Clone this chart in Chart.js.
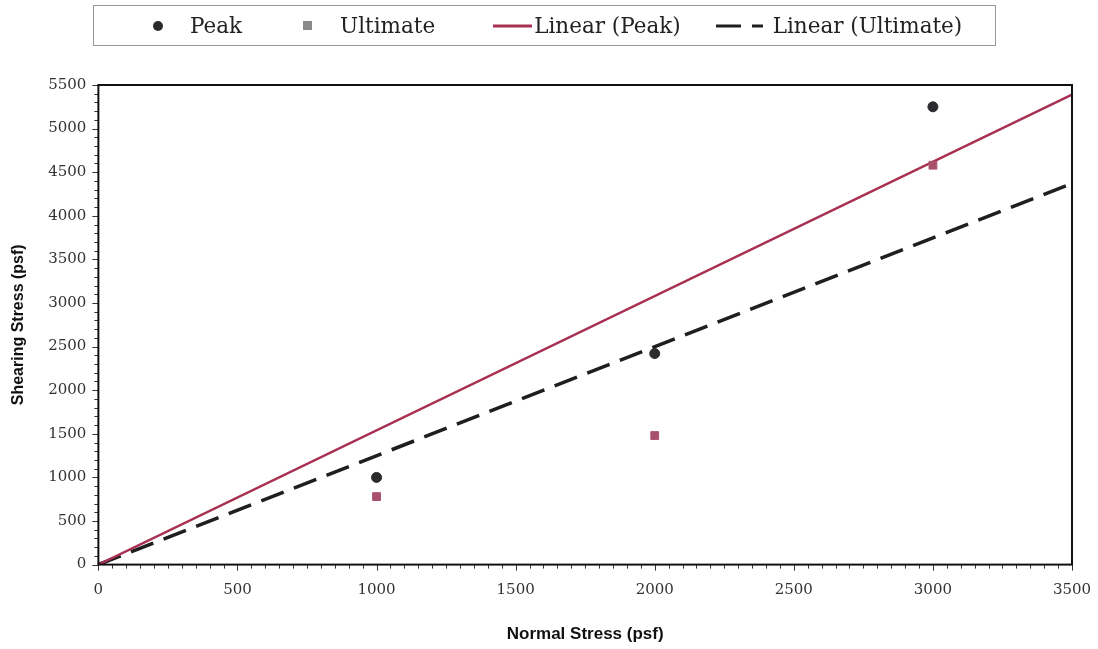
<!DOCTYPE html>
<html>
<head>
<meta charset="utf-8">
<script src="https://cdn.jsdelivr.net/npm/chart.js@4.4.1/dist/chart.umd.min.js"></script>
<style>
    body { margin: 0; background: #fff; }
    #wrap { position: relative; width: 1098px; height: 649px; }
    #legend {
        position: absolute; left: 93px; top: 5px; width: 901px; height: 39px;
        border: 1px solid #999; display: flex; align-items: center; justify-content: flex-start;
        font-family: "DejaVu Serif", serif; font-size: 21.5px; color: #222;
    }
    #legend .item { display: flex; align-items: center; }
    #legend svg { display: block; }
</style>
</head>
<body>
<div id="wrap">
    <canvas id="chart" width="1098" height="649"></canvas>
    <div id="legend"></div>
</div>
<script>
// measured points (psf)
const normalStress = [1000, 2000, 3000];
const peakShear = [1000, 2420, 5250];
const ultimateShear = [780, 1480, 4580];

// trendline ends (intercept 0)
const fitX = [0, 3500];
const peakFit = [0, 5390];
const ultimateFit = [0, 4372];

const xTicks = [0, 500, 1000, 1500, 2000, 2500, 3000, 3500];
const yTicks = [0, 500, 1000, 1500, 2000, 2500, 3000, 3500, 4000, 4500, 5000, 5500];

const toPts = (xs, ys) => xs.map((x, i) => ({ x: x, y: ys[i] }));

// frame + minor ticks like the excel chart
const framePlugin = {
    id: 'frame',
    afterDraw(chart) {
        const { ctx, chartArea: a, scales } = chart;
        ctx.save();
        ctx.strokeStyle = '#333';
        ctx.lineWidth = 1;
        ctx.beginPath();
        for (let v = 0; v <= 3500; v += 50) {
            const px = Math.round(scales.x.getPixelForValue(v)) + 0.5;
            const len = v % 500 === 0 ? 6 : 4;
            ctx.moveTo(px, a.bottom);
            ctx.lineTo(px, a.bottom + len);
        }
        for (let v = 0; v <= 5500; v += 100) {
            const py = Math.round(scales.y.getPixelForValue(v)) + 0.5;
            const len = v % 500 === 0 ? 6 : 4;
            ctx.moveTo(a.left, py);
            ctx.lineTo(a.left - len, py);
        }
        ctx.stroke();
        ctx.lineWidth = 2;
        ctx.strokeStyle = '#111';
        ctx.strokeRect(a.left, a.top, a.right - a.left, a.bottom - a.top);
        ctx.restore();
    }
};

const chart = new Chart(document.getElementById('chart'), {
    type: 'scatter',
    data: {
        datasets: [
            {
                label: 'Peak',
                data: toPts(normalStress, peakShear),
                pointStyle: 'circle',
                pointRadius: 5,
                backgroundColor: '#2b2b2d',
                borderColor: '#2b2b2d',
                legendColor: '#2b2b2d'
            },
            {
                label: 'Ultimate',
                data: toPts(normalStress, ultimateShear),
                pointStyle: 'rect',
                pointRadius: 5.5,
                backgroundColor: '#a8506c',
                borderColor: '#a8506c',
                legendColor: '#8a8a8a'
            },
            {
                label: 'Linear (Peak)',
                type: 'line',
                data: toPts(fitX, peakFit),
                borderColor: '#a83052',
                borderWidth: 2.5,
                pointRadius: 0,
                fill: false
            },
            {
                label: 'Linear (Ultimate)',
                type: 'line',
                data: toPts(fitX, ultimateFit),
                borderColor: '#1f1f1f',
                borderWidth: 3.5,
                borderDash: [24, 11],
                pointRadius: 0,
                fill: false
            }
        ]
    },
    options: {
        responsive: false,
        animation: false,
        layout: { padding: { top: 85, right: 0, left: 5, bottom: 0 } },
        plugins: {
            legend: { display: false },
            tooltip: { enabled: false }
        },
        scales: {
            x: {
                type: 'linear',
                min: 0, max: 3500,
                afterBuildTicks: (s) => { s.ticks = xTicks.map(v => ({ value: v })); },
                afterFit: (s) => { s.paddingRight = 26; },
                grid: { display: false, drawTicks: false },
                border: { display: false },
                ticks: {
                    padding: 17,
                    color: '#333',
                    font: { family: 'DejaVu Serif', size: 15 },
                    callback: (v) => String(v)
                },
                title: {
                    display: true,
                    text: 'Normal Stress (psf)',
                    color: '#111',
                    padding: { top: 8 },
                    font: { family: 'Liberation Sans', size: 17, weight: 'bold' }
                }
            },
            y: {
                min: 0, max: 5500,
                afterBuildTicks: (s) => { s.ticks = yTicks.map(v => ({ value: v })); },
                grid: { display: false, drawTicks: false },
                border: { display: false },
                ticks: {
                    padding: 12,
                    color: '#333',
                    font: { family: 'DejaVu Serif', size: 15 },
                    callback: (v) => String(v)
                },
                title: {
                    display: true,
                    text: 'Shearing Stress (psf)',
                    color: '#111',
                    padding: { bottom: 8 },
                    font: { family: 'Liberation Sans', size: 16, weight: 'bold' }
                }
            }
        }
    },
    plugins: [framePlugin]
});

// html legend built from the datasets, item offsets as in the original
const legendLeft = [58, 60, 58, 35];
function buildLegend(chart) {
    let html = '';
    chart.data.datasets.forEach((ds, i) => {
        let icon;
        if (ds.type === 'line') {
            const dash = ds.borderDash ? `stroke-dasharray="25 11"` : '';
            const w = ds.borderDash ? 47 : 39;
            icon = `<svg width="${w}" height="10" style="margin-right:${ds.borderDash ? 10 : 2}px"><line x1="0" y1="5" x2="${w}" y2="5" stroke="${ds.borderColor}" stroke-width="3" ${dash}/></svg>`;
        } else if (ds.pointStyle === 'circle') {
            icon = `<svg width="12" height="12" style="margin-right:26px"><circle cx="6" cy="6" r="5" fill="${ds.legendColor}"/></svg>`;
        } else {
            icon = `<svg width="12" height="12" style="margin-right:26px"><rect x="1" y="1" width="9" height="9" fill="${ds.legendColor}"/></svg>`;
        }
        html += `<div class="item" style="margin-left:${legendLeft[i]}px">${icon}<span>${ds.label}</span></div>`;
    });
    document.getElementById('legend').innerHTML = html;
}
buildLegend(chart);
</script>
</body>
</html>
